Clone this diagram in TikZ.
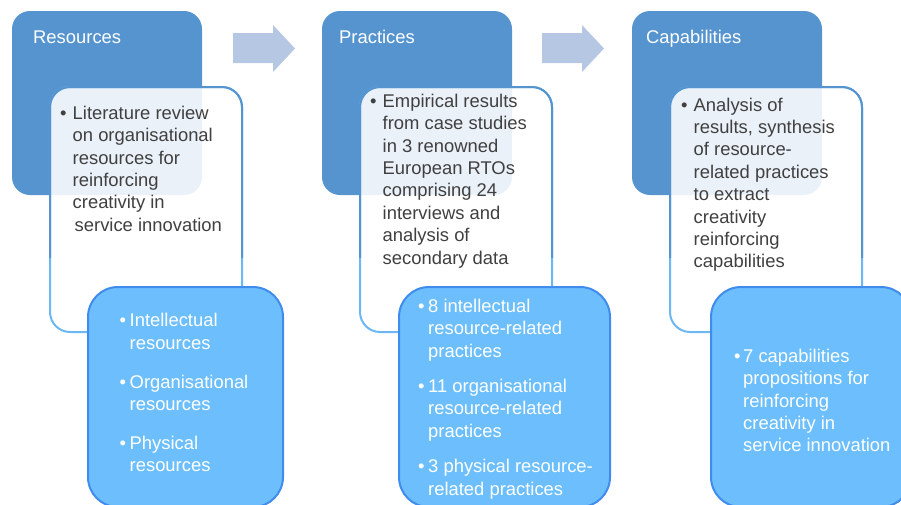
\documentclass[tikz,border=0pt]{standalone}
\usepackage{fontspec}
\setmainfont{Liberation Sans}
\usepackage{tikz}
\usetikzlibrary{positioning}
\usepackage{xcolor}

\definecolor{hdrblue}{RGB}{85,148,206}
\definecolor{edgeblue}{RGB}{108,184,244}
\definecolor{resfill}{RGB}{108,191,252}
\definecolor{resedge}{RGB}{64,140,238}
\definecolor{arrowgrey}{RGB}{182,199,228}
\definecolor{textgrey}{RGB}{64,64,64}

\newcommand{\bfont}{\fontsize{18.4}{22.4}\selectfont}
\newcommand{\bl}[1]{\makebox[#1][l]{\textbullet}}

\tikzset{
	hdrbox/.style={anchor=north west, fill=hdrblue, rounded corners=18pt, minimum width=190pt, minimum height=184pt, inner sep=0pt, outer sep=0pt},
	notebox/.style={anchor=north west, fill=white, fill opacity=0.88, draw=edgeblue, line width=2pt, rounded corners=20pt, minimum width=192pt, minimum height=245pt, inner sep=0pt, outer sep=0pt},
	resbox/.style={anchor=north west, fill=resfill, draw=resedge, line width=2pt, rounded corners=30pt, minimum height=220pt, inner sep=0pt, outer sep=0pt},
	hdrtext/.style={anchor=base west, inner sep=0pt, text=white, font=\bfont},
	notetext/.style={anchor=base west, inner sep=0pt, text=textgrey, font=\bfont},
	restext/.style={anchor=base west, inner sep=0pt, text=white, font=\bfont},
	flowarrow/.style={fill=arrowgrey}
}

\begin{document}
\begin{tikzpicture}[x=1pt, y=-1pt]
	\useasboundingbox (0,0) rectangle (901,504);
	\clip (0,0) rectangle (901,504);

	\node[hdrbox] (res) at (12,11) {};
	\node[hdrbox] (pra) at (322,11) {};
	\node[hdrbox] (cap) at (632,11) {};

	\node[hdrtext] (res-t) at (33,43.3) {Resources};
	\node[hdrtext] (pra-t) at (339,43.3) {Practices};
	\node[hdrtext] (cap-t) at (646,43.3) {Capabilities};

	\fill[flowarrow] (233,33)--(273,33)--(273,25)--(295,48.5)--(273,72)--(273,63)--(233,63)--cycle;
	\fill[flowarrow] (542,33)--(582,33)--(582,25)--(604,48.5)--(582,72)--(582,63)--(542,63)--cycle;

	\node[notebox] (res-n) at (50,87) {};
	\node[notebox] (pra-n) at (360,87) {};
	\node[notebox] (cap-n) at (670,87) {};
	\begin{scope}
		\clip (0,0) rectangle (901,257);
		\foreach \nx in {50,360,670}
			\draw[hdrblue, line width=2pt, rounded corners=20pt] (\nx,87) rectangle ++(192,245);
	\end{scope}

	\node[notetext] (res-l) at (60,119.3) {\begin{tabular}[t]{@{}l@{}l@{}}
		\bl{12.5pt} & Literature review\\
		& on organisational\\
		& resources for\\
		& reinforcing\\
		& creativity in\\
		& \hspace{2pt}service innovation
	\end{tabular}};
	\node[notetext] (pra-l) at (370,107.3) {\begin{tabular}[t]{@{}l@{}l@{}}
		\bl{12.5pt} & Empirical results\\
		& from case studies\\
		& in 3 renowned\\
		& European RTOs\\
		& comprising 24\\
		& interviews and\\
		& analysis of\\
		& secondary data
	\end{tabular}};
	\node[notetext] (cap-l) at (681,111) {\begin{tabular}[t]{@{}l@{}l@{}}
		\bl{12.5pt} & Analysis of\\
		& results, synthesis\\
		& of resource-\\
		& related practices\\
		& to extract\\
		& creativity\\
		& reinforcing\\
		& capabilities
	\end{tabular}};

	\node[resbox, minimum width=195pt] (res-r) at (88,287) {};
	\node[resbox, minimum width=211pt] (pra-r) at (399,287) {};
	\node[resbox, minimum width=200pt] (cap-r) at (711,287) {};

	\node[restext] (res-i) at (119.5,326.7) {\begin{tabular}[t]{@{}l@{}l@{}}
		\bl{10pt} & Intellectual\\
		& resources\\[16.5pt]
		\bl{10pt} & Organisational\\
		& resources\\[16.5pt]
		\bl{10pt} & Physical\\
		& resources
	\end{tabular}};
	\node[restext] (pra-i) at (418,312.3) {\begin{tabular}[t]{@{}l@{}l@{}}
		\bl{10pt} & 8 intellectual\\
		& resource-related\\
		& practices\\[13pt]
		\bl{10pt} & 11 organisational\\
		& resource-related\\
		& practices\\[13pt]
		\bl{10pt} & 3 physical resource-\\
		& related practices
	\end{tabular}};
	\node[restext] (cap-i) at (734,362.3) {\begin{tabular}[t]{@{}l@{}l@{}}
		\bl{9pt} & 7 capabilities\\
		& propositions for\\
		& reinforcing\\
		& creativity in\\
		& service innovation
	\end{tabular}};
\end{tikzpicture}
\end{document}
